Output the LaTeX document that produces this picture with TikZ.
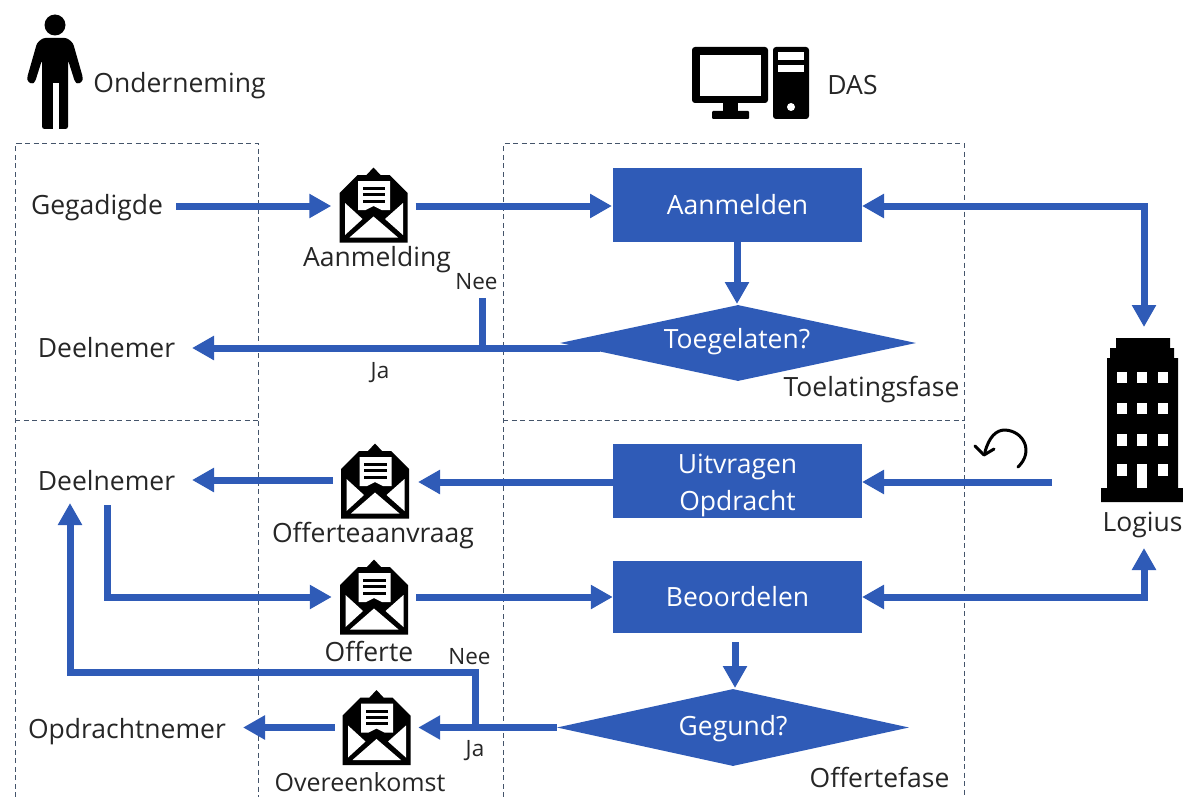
\documentclass[tikz,border=0pt]{standalone}
\usepackage{fontspec}
\setmainfont{Open Sans}
\usetikzlibrary{arrows.meta,shapes.geometric}
\definecolor{flowblue}{HTML}{2F5BB7}
\definecolor{frame}{HTML}{44546A}
\definecolor{ink}{HTML}{262626}
\tikzset{
  flow/.style={draw=flowblue,line width=7pt,-{Triangle[length=22pt,width=23pt]}},
  flowboth/.style={draw=flowblue,line width=7pt,{Triangle[length=22pt,width=23pt]}-{Triangle[length=22pt,width=23pt]}},
  stub/.style={draw=flowblue,line width=7pt},
  zone/.style={draw=frame,line width=1pt,dash pattern=on 5pt off 3.5pt},
  procbox/.style={fill=flowblue,text=white,minimum width=249pt,minimum height=74pt,inner sep=0pt,font=\fontsize{26.5}{37}\selectfont,align=center},
  boxtext/.style={text=white,inner sep=0pt,font=\fontsize{26.5}{37}\selectfont,align=center},
  decide/.style={diamond,fill=flowblue,text=white,aspect=4.6,inner sep=0pt},
  lbl/.style={text=ink,inner sep=0pt,font=\fontsize{26.5}{30}\selectfont},
  small/.style={text=ink,inner sep=0pt,font=\fontsize{22.5}{26}\selectfont},
  envbox/.style={minimum width=84pt,minimum height=74pt,inner sep=0pt},
  pics/envelope/.style={code={
    \fill[black] (-34,37.5) -- (-34,-12) -- (-16,-30) -- (-7,-30) -- (0,-37.5) -- (7,-30) -- (16,-30) -- (34,-12) -- (34,37.5) -- cycle;
    \fill[white] (-15.5,-24) -- (16.5,-24) -- (16.5,5) -- (8,5) -- (0,1) -- (-8,5) -- (-15.5,5) -- cycle;
    \fill[white] (-28.5,-2) -- (-28.5,30) -- (-11,14) -- cycle;
    \fill[white] (29.5,-2) -- (29.5,30) -- (11.5,14) -- cycle;
    \fill[white] (-24,32.5) -- (24.5,32.5) -- (0,11.5) -- cycle;
    \fill[black] (-11,-18) rectangle (11.5,-15);
    \fill[black] (-11,-12) rectangle (11.5,-9);
    \fill[black] (-11,-5.5) rectangle (11.5,-2.5);
  }}
}
\begin{document}
\begin{tikzpicture}[x=1pt,y=-1pt]
\useasboundingbox (0,0) rectangle (1183,797);
% zones
\draw[zone] (15,797) -- (15,144) -- (258,144) -- (258,797);
\draw[zone] (503,797) -- (503,144) -- (964,144) -- (964,797);
\draw[zone] (15,420) -- (258,420);
\draw[zone] (503,420) -- (964,420);
% person
\fill[black] (55,25) circle (10.5);
\fill[black,rounded corners=2.5pt] (43,38) -- (67,38) -- (73,43) -- (83,78) -- (82,82) -- (78,84) -- (75,82) -- (68,60) -- (68,129) -- (42,129) -- (42,60) -- (35,82) -- (32,84) -- (28,82) -- (27,78) -- (37,43) -- cycle;
\fill[white] (52.5,83) rectangle (58.5,130);
% computer
\fill[black,rounded corners=3pt] (692,47) rectangle (768,103);
\fill[white] (700,55) rectangle (761,96);
\fill[black] (723,102) rectangle (738,112);
\fill[black,rounded corners=1pt] (712,111) rectangle (749,119);
\fill[black,rounded corners=3pt] (773,47) rectangle (809,119);
\fill[white] (778,52) rectangle (804,60);
\fill[white] (778,65) rectangle (804,72);
\fill[white] (791,107) circle (4);
% building
\fill[black] (1116,338) -- (1170,338) -- (1170,348) -- (1174,348) -- (1174,358) -- (1178,358) -- (1178,488) -- (1183,488) -- (1183,502) -- (1101,502) -- (1101,488) -- (1107,488) -- (1107,358) -- (1110,358) -- (1110,348) -- (1116,348) -- cycle;
\foreach \yy/\hh in {372/11,403/11,434/12}{
  \foreach \xx in {1117,1137,1158}{\fill[white] (\xx,\yy) rectangle (\xx+9.5,\yy+\hh);}
}
\fill[white] (1117,464) rectangle (1126.5,476);
\fill[white] (1137,464) rectangle (1146.5,488);
\fill[white] (1158,464) rectangle (1167.5,476);
% process shapes
\node[procbox] (aanmelden) at (737.5,205) {Aanmelden};
\node[procbox] (uitvragen) at (737.5,481) {};
\node[boxtext] at (737.5,485) {Uitvragen\\Opdracht};
\node[procbox,minimum height=72pt] (beoordelen) at (737.5,597) {Beoordelen};
\node[decide,minimum width=356pt,minimum height=76pt] (toegelaten) at (738,343) {};
\node[boxtext] at (737,342) {Toegelaten?};
\node[decide,minimum width=352pt,minimum height=77pt] (gegund) at (733,727.5) {};
\node[boxtext] at (733,729) {Gegund?};
% text
\node[lbl] at (179.5,86) {Onderneming};
\node[lbl] at (852.5,85) {DAS};
\node[lbl] (gegadigde) at (97,208) {Gegadigde};
\node[lbl] (deelnemerA) at (106.5,348) {Deelnemer};
\node[lbl] (deelnemerB) at (106.5,481) {Deelnemer};
\node[lbl] (opdrachtnemer) at (127,732) {Opdrachtnemer};
\node[lbl] at (377,260) {Aanmelding};
\node[lbl] at (373,536) {Offerteaanvraag};
\node[lbl] at (369,651) {Offerte};
\node[lbl,font=\fontsize{25}{30}\selectfont] at (360,782) {Overeenkomst};
\node[lbl] at (1142.5,525) {Logius};
\node[lbl] at (871.5,390) {Toelatingsfase};
\node[lbl] at (879.5,777) {Offertefase};
\node[small] (neeA) at (476.5,282) {Nee};
\node[small] at (380,373) {Ja};
\node[small] (neeB) at (469.5,657) {Nee};
\node[small] at (475,751) {Ja};
% envelopes
\node[envbox] (env1) at (373.5,205) {}; \pic at (env1.center) {envelope};
\node[envbox] (env2) at (375,481) {}; \pic at (env2.center) {envelope};
\node[envbox] (env3) at (374,597) {}; \pic at (env3.center) {envelope};
\node[envbox,minimum width=83pt] (env4) at (376.5,727.5) {}; \pic at (env4.center) {envelope};
% free ends
\coordinate (gOut) at (176,206);
\coordinate (aIn) at (612,206);
\coordinate (uIn) at (1052,482);
\coordinate (uE) at (862,482);
\coordinate (uW) at (613,482);
\coordinate (e2r) at (418,482);
\coordinate (e2l) at (333,480);
\coordinate (dlb) at (192,480);
\coordinate (cornerTop) at (1144,206);
\coordinate (aE) at (862,206);
\coordinate (lgTop) at (1144,327);
\coordinate (cornerBot) at (1144,597);
\coordinate (bE) at (862,597);
\coordinate (lgBot) at (1144,548);
\coordinate (dA) at (600,348);
\coordinate (dlA) at (192,348);
\coordinate (nA) at (482,298);
\coordinate (nAb) at (482,348);
\coordinate (nB) at (475,727.5);
\coordinate (nB1) at (475,672);
\coordinate (nB2) at (70,672);
\coordinate (nB3) at (70,503);
\coordinate (oB) at (107.5,505);
\coordinate (oB1) at (107.5,597);
\coordinate (opd) at (243,727.5);
\coordinate (top1) at (737,242);
\coordinate (top2) at (737,304);
\coordinate (bot1) at (735,642);
\coordinate (bot2) at (735,688);
% connectors
\draw[flow] (gOut) -- (env1.west |- gOut);
\draw[stub,-{Triangle[length=22pt,width=23pt]}] (env1.east |- aIn) -- (aIn);
\draw[flow] (top1) -- (top2);
\draw[flow] (dA) -- (dlA);
\draw[stub] (nA) -- (nAb);
\draw[flowboth] (aE) -- (cornerTop) -- (lgTop);
\draw[flow] (uIn) -- (uE);
\draw[flow] (uW) -- (e2r);
\draw[flow] (e2l) -- (dlb);
\draw[flow] (oB) -- (oB1) -- (env3.west);
\draw[flow] (env3.east) -- (beoordelen.west);
\draw[flowboth] (bE) -- (cornerBot) -- (lgBot);
\draw[flow] (bot1) -- (bot2);
\draw[flow] (gegund.west) -- (env4.east);
\draw[flow] (env4.west) -- (opd);
\draw[stub,-{Triangle[length=22pt,width=23pt]}] (nB) -- (nB1) -- (nB2) -- (nB3);
% return symbol
\draw[black,line width=3pt,line cap=round,line join=round] (1018,467) .. controls (1034,452) and (1024,431) .. (1005,430) .. controls (996,430) and (989,437) .. (985,452);
\draw[black,line width=3pt,line cap=round,line join=round] (975,446) -- (984,455) -- (994,449);
\end{tikzpicture}
\end{document}
